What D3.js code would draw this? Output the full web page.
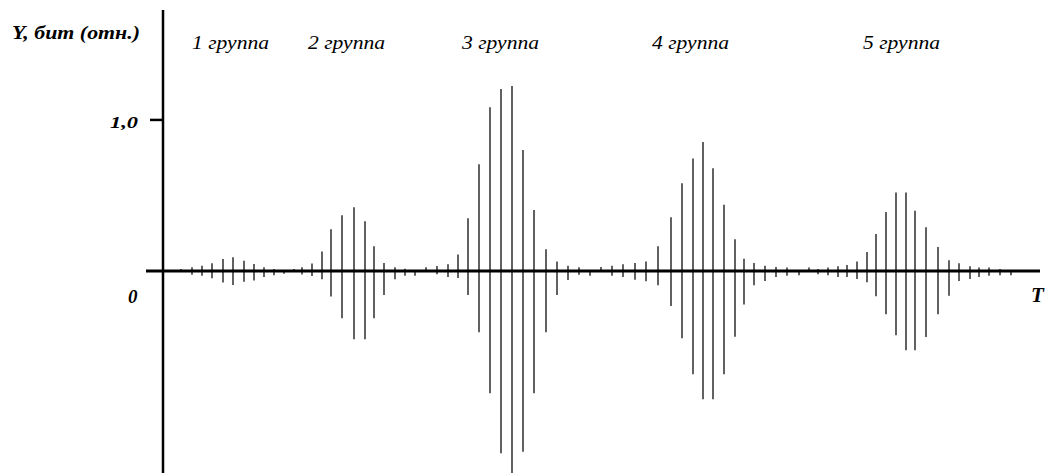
<!DOCTYPE html>
<head>
  <meta charset="utf-8">
  <script src="https://d3js.org/d3.v7.min.js"></script>
  <style>
    body { margin: 0; background: #fff; }
    text { font-family: "Liberation Serif", "Times New Roman", serif; font-style: italic; }
  </style>
</head>

<body>
  <script>
    // T positions of the pulses (relative units along the time axis)
    var times = [18, 29, 39, 49, 60, 70, 81, 91, 101, 111, 121, 131, 139, 149, 159, 168, 179, 191, 202, 211,
      221, 232, 242, 252, 263, 274, 285, 295, 305, 316, 327, 338, 349, 360, 371, 383, 394, 405, 416, 427,
      438, 449, 460, 472, 483, 495, 508, 519, 530, 540, 550, 561, 572, 581, 591, 602, 613, 624, 636, 646,
      655, 665, 675, 684, 694, 704, 713, 723, 733, 743, 752, 763, 775, 786, 796, 807, 816, 826, 837, 848];

    // upper (positive) part of each pulse, Y in relative bits
    var upper = [.013, .025, .035, .051, .079, .091, .068, .046, .025, .013, 0, .013, .025, .050, .128, .276, .369, .422, .329, .164,
      .053, .025, .015, 0, .025, .033, .044, .109, .349, .707, 1.084, 1.205, 1.225, .801, .404, .144, .062, .035, .025, 0,
      .026, .035, .044, .053, .062, .164, .356, .581, .744, .854, .680, .439, .210, .081, .053, .035, .026, .022, 0, .022,
      .013, .022, .031, .040, .062, .126, .245, .391, .519, .519, .399, .289, .159, .071, .051, .031, .022, .022, .013, 0];

    // lower (negative) part of each pulse
    var lower = [0, .025, .031, .048, .077, .093, .071, .064, .040, .028, .018, 0, .023, .033, .055, .170, .313, .452, .452, .313,
      .159, .055, .031, .031, 0, .022, .040, .046, .159, .406, .810, 1.207, 1.338, 1.197, .810, .406, .159, .060, .026, .031,
      0, .031, .040, .058, .068, .095, .232, .446, .684, .850, .850, .684, .435, .223, .095, .066, .040, .031, .028, 0,
      .022, .028, .040, .040, .053, .075, .168, .287, .426, .525, .525, .437, .287, .164, .066, .053, .040, .031, .028, .028];

    var groups = ["1 группа", "2 группа", "3 группа", "4 группа", "5 группа"];
    var groupT = [29, 145, 299, 489, 700];
    var yTicks = [1.0];

    var width = 1050, height = 473;

    var svg = d3.select("body").append("svg")
      .attr("width", width)
      .attr("height", height);

    var x = d3.scaleLinear().domain([-17, 877]).range([146, 1040]);
    var y = d3.scaleLinear().domain([-1.338, 1.728]).range([473, 10]);

    var data = times.map(function(t, i) { return {t: t, up: upper[i], down: lower[i]}; });

    // pulses
    svg.append("g").selectAll("line")
      .data(data)
      .enter().append("line")
        .attr("x1", function(d) { return x(d.t); })
        .attr("x2", function(d) { return x(d.t); })
        .attr("y1", function(d) { return y(d.up); })
        .attr("y2", function(d) { return y(-d.down); })
        .attr("stroke", "#3a3a3a")
        .attr("stroke-width", 1.6);

    // T axis
    svg.append("line")
      .attr("x1", x(-17)).attr("x2", x(877))
      .attr("y1", y(0)).attr("y2", y(0))
      .attr("stroke", "#000")
      .attr("stroke-width", 3);

    // Y axis
    svg.append("line")
      .attr("x1", x(0)).attr("x2", x(0))
      .attr("y1", y(1.728)).attr("y2", y(-1.338))
      .attr("stroke", "#000")
      .attr("stroke-width", 2.5);

    var yt = svg.append("g").selectAll("g")
      .data(yTicks)
      .enter().append("g");

    yt.append("line")
      .attr("x1", x(0) - 13).attr("x2", x(0))
      .attr("y1", y).attr("y2", y)
      .attr("stroke", "#000")
      .attr("stroke-width", 2.5);

    yt.append("text")
      .attr("x", 110)
      .attr("y", function(d) { return y(d) + 8; })
      .attr("font-weight", "bold")
      .attr("textLength", 28)
      .attr("lengthAdjust", "spacingAndGlyphs")
      .style("font-size", "17px")
      .text(function(d) { return d3.format(".1f")(d).replace(".", ","); });

    svg.append("text")
      .attr("x", 128)
      .attr("y", y(0) + 32)
      .attr("font-weight", "bold")
      .style("font-size", "19px")
      .text("0");

    svg.append("text")
      .attr("x", 1031)
      .attr("y", y(0) + 31)
      .attr("font-weight", "bold")
      .style("font-size", "21px")
      .text("T");

    svg.append("text")
      .attr("x", 12)
      .attr("y", 39)
      .attr("font-weight", "bold")
      .attr("textLength", 128)
      .attr("lengthAdjust", "spacingAndGlyphs")
      .style("font-size", "18px")
      .text("Y, бит (отн.)");

    svg.append("g").selectAll("text")
      .data(groups)
      .enter().append("text")
        .attr("x", function(d, i) { return x(groupT[i]); })
        .attr("y", 49)
        .attr("textLength", 77)
        .attr("lengthAdjust", "spacingAndGlyphs")
        .style("font-size", "18px")
        .text(function(d) { return d; });
  </script>
</body>
